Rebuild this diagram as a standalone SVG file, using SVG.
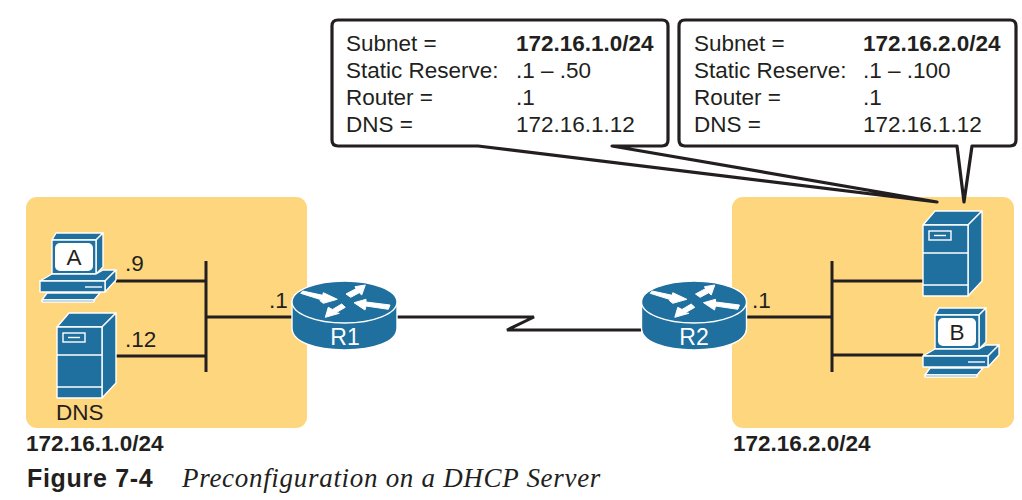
<svg xmlns="http://www.w3.org/2000/svg" width="1022" height="500" viewBox="0 0 1022 500">
<style>
text{font-family:"Liberation Sans",Arial,sans-serif;fill:#231f20;font-size:22.5px}
.b{font-weight:bold}
.i{fill:#1f6f9f;stroke:#fff;stroke-width:1.4;stroke-linejoin:round}
.l{stroke:#231f20;stroke-width:3;fill:none}
.c{fill:#fff;stroke:#231f20;stroke-width:3.2;stroke-linejoin:round}
.w{fill:#fff;stroke:none}
.a{fill:#fff;stroke:#fff;stroke-width:1;stroke-linejoin:round}
.wl{stroke:#fff;stroke-width:1.4;fill:none}
.rt{fill:#fff;font-size:23px;text-anchor:middle}
</style>
<defs>
<g id="server">
<path class="i" d="M0 0L12 -14H59L45 0Z"/>
<path class="i" d="M45 0L59 -14V56L45 71Z"/>
<rect class="i" x="0" y="0" width="45" height="71"/>
<path class="wl" d="M0 28H45M0 60H45"/>
<rect class="wl" x="6" y="6" width="22" height="9"/>
<path class="wl" d="M11 10.500H23"/>
</g>
<g id="pc">
<path class="i" d="M52 240L56 233H103L96 240Z"/>
<path class="i" d="M96 240L103 233V267L96 274Z"/>
<rect class="i" x="52" y="240" width="44" height="34"/>
<rect class="w" x="55" y="243" width="38" height="28" rx="5"/>
<path class="i" d="M40 281L52 274H96L103 270H116L105 281Z"/>
<path class="i" d="M105 281L116 270V280L105 292Z"/>
<rect class="i" x="40" y="281" width="65" height="11"/>
<path class="wl" d="M85 287H102"/>
<path class="i" d="M47 293H100L94 300H42Z"/>
<path class="i" d="M42 300H94V302H42Z"/>
</g>
<g id="router">
<path class="i" d="M-52.500 0V26C-52.500 40 -29 48 0 48C29 48 52.500 40 52.500 26V0Z"/>
<ellipse class="i" cx="0" cy="0" rx="52.500" ry="21"/>
<g class="a">
<path d="M-43.800 -8.700L-41.800 -11L-21.800 -6.700L-21.200 -9.300L-7.200 -2.700L-21.200 1.300L-24.500 -1.300L-24 -2.500Z"/>
<path d="M1.500 -8L11.500 -13.300L10.500 -15.300L20.800 -17L17.200 -7L14.800 -9.300L6.200 -4.700Z"/>
<path d="M9.500 .7L21.500 -2.700V0L45.500 3L43.800 7.300L21.500 4L20.500 8Z"/>
<path d="M-19.200 15.300L-16.200 5.300L-12 7.500L-2.800 2L.8 5.300L-8.500 10.700L-5.200 11.300Z"/>
</g>
</g>
</defs>
<g id="subnet-left"><rect x="26" y="197" width="281" height="231" rx="11" fill="#fed67e"/></g>
<g id="subnet-right"><rect x="732" y="197" width="282" height="231" rx="11" fill="#fed67e"/></g>
<g id="connectors">
<path class="l" d="M116 281H206M116 356H206M206 261V372M206 317H293"/>
<path class="l" d="M397 317H534L507 330H641"/>
<path class="l" d="M747 317H832M832 261V372M832 281H923M832 355H923"/>
</g>
<g id="callout-left">
<path class="c" d="M338 20H662Q668 20 668 26V140Q668 146 662 146H612L937 202L478 146H338Q332 146 332 140V26Q332 20 338 20Z"/>
<text x="346" y="51">Subnet =</text><text class="b" x="516" y="51">172.16.1.0/24</text>
<text x="346" y="78">Static Reserve:</text><text x="516" y="78">.1 – .50</text>
<text x="346" y="105">Router =</text><text x="516" y="105">.1</text>
<text x="346" y="132">DNS =</text><text x="516" y="132">172.16.1.12</text>
</g>
<g id="callout-right">
<path class="c" d="M685 20H1010Q1016 20 1016 26V140Q1016 146 1010 146H972L964 202L957 146H685Q679 146 679 140V26Q679 20 685 20Z"/>
<text x="694" y="51">Subnet =</text><text class="b" x="863" y="51">172.16.2.0/24</text>
<text x="694" y="78">Static Reserve:</text><text x="863" y="78">.1 – .100</text>
<text x="694" y="105">Router =</text><text x="863" y="105">.1</text>
<text x="694" y="132">DNS =</text><text x="863" y="132">172.16.1.12</text>
</g>
<g id="host-A"><use href="#pc"/><text x="74" y="265" text-anchor="middle">A</text></g>
<g id="server-DNS"><use href="#server" x="57" y="327"/><text x="56" y="420">DNS</text></g>
<g id="router-R1"><use href="#router" x="344.500" y="302"/><text class="rt" x="345" y="345">R1</text></g>
<g id="router-R2"><use href="#router" x="694" y="302"/><text class="rt" x="694" y="345">R2</text></g>
<g id="server-DHCP"><use href="#server" x="923" y="225"/></g>
<g id="host-B"><use href="#pc" x="883" y="75"/><text x="957" y="340" text-anchor="middle">B</text></g>
<g id="labels">
<text x="125" y="271">.9</text>
<text x="125" y="347">.12</text>
<text x="269" y="308">.1</text>
<text x="752" y="308">.1</text>
<text class="b" x="26" y="451">172.16.1.0/24</text>
<text class="b" x="733" y="451">172.16.2.0/24</text>
<text class="b" x="27" y="487" style="font-size:25px;letter-spacing:.7px">Figure 7-4</text>
<text x="182" y="487" style="font-family:'Liberation Serif',serif;font-style:italic;font-size:27px;letter-spacing:.7px">Preconfiguration on a DHCP Server</text>
</g>
</svg>
